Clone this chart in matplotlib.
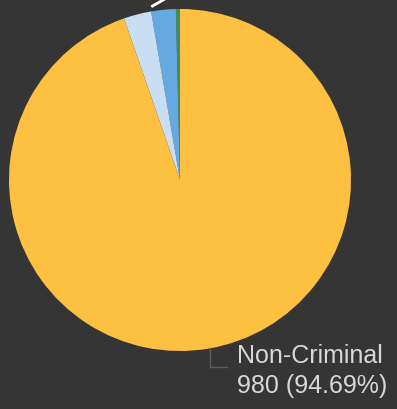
import numpy as np
import matplotlib
matplotlib.use("Agg")
import matplotlib.pyplot as plt

# case outcome counts, listed counter-clockwise from 12 o'clock
labels = ["Other", "Criminal", "Unknown", "Non-Criminal"]
counts = [4, 24, 27, 980]
colors = ["#3f8f5c", "#64a9df", "#c9def2", "#fdc041"]

W, H = 397, 409
fig = plt.figure(figsize=(W / 100, H / 100), dpi=100, facecolor="#353535")
ax = fig.add_axes([0, 0, 1, 1])
ax.set_facecolor("#353535")

cx, cy, r = 180, H - 180, 171
wedges, _ = ax.pie(counts, colors=colors, startangle=90, counterclock=True,
                   center=(cx, cy), radius=r, frame=True,
                   wedgeprops=dict(linewidth=0))
ax.set_xlim(0, W)
ax.set_ylim(0, H)
ax.set_aspect("equal")
ax.axis("off")

total = sum(counts)
fracs = np.array(counts) / total

# leader for the big slice, leaving the rim just right of the bottom
ang = np.deg2rad(-80)
x0, y0 = cx + r * np.cos(ang), cy + r * np.sin(ang)
ax.plot([x0, x0, x0 + 17], [y0, y0 - 19, y0 - 19], color="#5c5c5c", lw=1)
ax.text(237, y0 - 15, labels[3], color="#d8d8d8", fontsize=18,
        family="Liberation Sans", va="baseline", ha="left")
ax.text(237, y0 - 45, f"{counts[3]} ({fracs[3] * 100:.2f}%)", color="#d8d8d8",
        fontsize=18, family="Liberation Sans", va="baseline", ha="left")

# leader for the small slices, running off the top edge
a1 = np.deg2rad(90 + 9)
lx, ly = cx + 1.03 * r * np.cos(a1), cy + 1.03 * r * np.sin(a1)
ax.plot([lx, lx + 16], [ly, ly + 9], color="white", lw=2, clip_on=True)

fig.savefig("out.png", dpi=100, facecolor=fig.get_facecolor())
